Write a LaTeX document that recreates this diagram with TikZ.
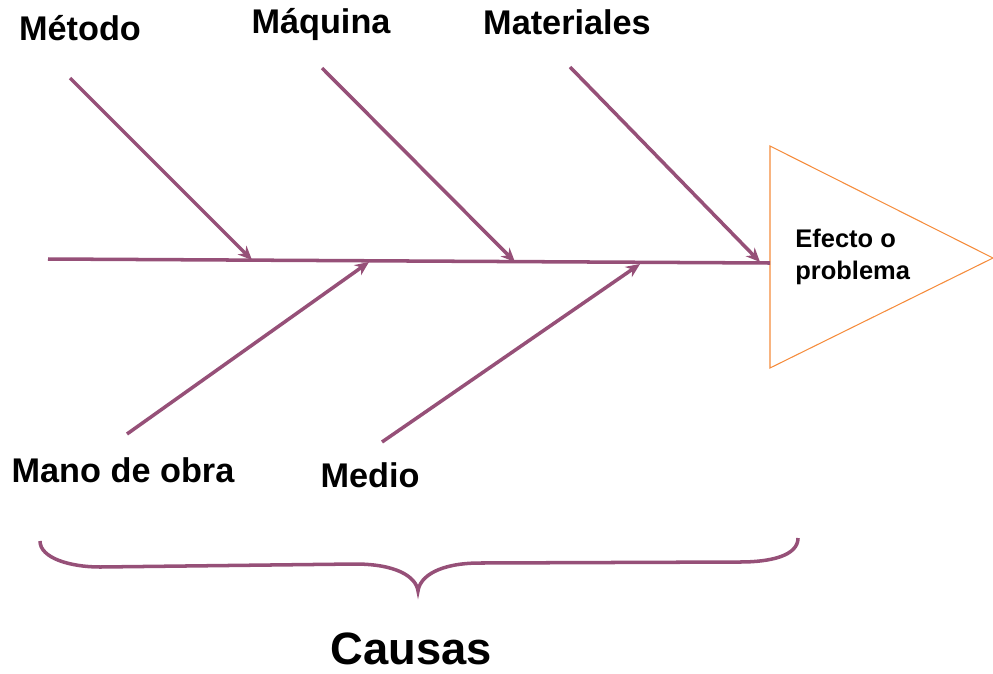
\documentclass[tikz,border=0pt]{standalone}
\usepackage{fontspec}
\setmainfont{Liberation Sans}
\usetikzlibrary{arrows.meta}

\definecolor{espina}{RGB}{150,80,120}
\definecolor{naranja}{RGB}{245,140,60}

\tikzset{
  hueso/.style={draw=espina, line width=2pt, -{Stealth[length=8pt,width=7pt]}},
  causa/.style={font=\bfseries\fontsize{19.5}{22}\selectfont, inner sep=0pt},
}

\begin{document}
\begin{tikzpicture}[x=0.02cm, y=-0.02cm]
  \useasboundingbox (0,0) rectangle (993,673);
  % espina central y efecto
  \coordinate (cola) at (48,259);
  \coordinate (cabeza) at (770,263);
  \draw [draw=naranja, line width=0.6pt] (770,146) -- (993,258) -- (770,368) -- cycle;
  \node [anchor=west, align=left, inner sep=0pt, font=\bfseries\fontsize{14.5}{18.5}\selectfont] (efecto) at (795,257) {Efecto o\\problema};
  \draw [draw=espina, line width=2pt] (cola) -- (cabeza);
  % causas de arriba
  \node [causa] (metodo) at (80,28) {Método};
  \node [causa] (maquina) at (321,24) {Máquina};
  \node [causa] (materiales) at (567,22) {Materiales};
  \coordinate (m1) at (70,78);    \coordinate (e1) at (252,260);
  \coordinate (m2) at (322,68);   \coordinate (e2) at (515,262);
  \coordinate (m3) at (570,67);   \coordinate (e3) at (760,262);
  \draw [hueso] (m1) -- (e1);
  \draw [hueso] (m2) -- (e2);
  \draw [hueso] (m3) -- (e3);
  % causas de abajo
  \node [causa] (mano) at (123,470) {Mano de obra};
  \node [causa] (medio) at (370,475) {Medio};
  \coordinate (m4) at (127,434);  \coordinate (e4) at (369,262);
  \coordinate (m5) at (382,442);  \coordinate (e5) at (640,264);
  \draw [hueso] (m4) -- (e4);
  \draw [hueso] (m5) -- (e5);
  % llave
  \draw [draw=espina, line width=2pt]
    (40,541) .. controls (40,558) and (70,567) .. (100,567) -- (355,564)
    .. controls (395,564) and (416,576) .. (418,591)
    .. controls (420,576) and (440,563) .. (480,563) -- (740,562)
    .. controls (770,562) and (798,556) .. (798,538);
  \node [font=\bfseries\fontsize{25.8}{30}\selectfont, inner sep=0pt] (causas) at (411,649) {Causas};
\end{tikzpicture}
\end{document}
